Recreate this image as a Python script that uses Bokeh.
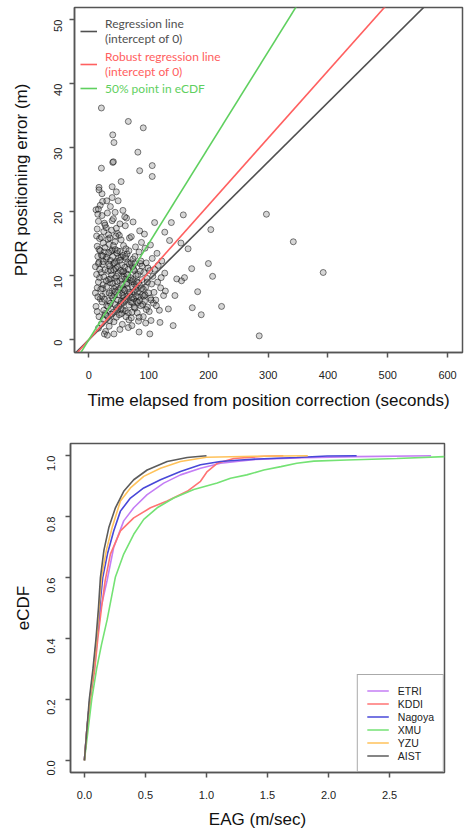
import numpy as np
from bokeh.plotting import figure
from bokeh.models import Range1d, Legend, LegendItem, FixedTicker, PrintfTickFormatter
from bokeh.embed import file_html
from bokeh.resources import INLINE

# ---------------- top chart data ----------------
time_elapsed = [
    12, 14, 11, 15, 13, 16, 12, 17, 18, 14, 19, 16, 13, 18, 15, 17, 11, 19, 14, 16,
    21, 22, 24, 23, 26, 25, 22, 27, 28, 21, 29, 24, 26, 23, 28, 22, 25, 27, 29, 21, 24, 26, 30, 23,
    31, 33, 35, 32, 36, 34, 38, 31, 37, 39, 33, 35, 37, 32, 39, 34, 36, 38, 30, 40, 33, 36, 31, 39, 35,
    41, 43, 45, 42, 46, 44, 48, 41, 47, 49, 43, 45, 47, 42, 44, 49, 46, 48, 40, 44, 50, 42, 46, 48, 41,
    51, 53, 55, 52, 56, 54, 58, 51, 57, 59, 53, 55, 57, 52, 54, 59, 56, 58, 50, 54, 60, 52, 57, 55,
    61, 63, 65, 62, 66, 64, 68, 61, 67, 69, 63, 65, 67, 62, 69, 64, 66, 68, 60, 70, 63,
    71, 73, 75, 72, 76, 74, 78, 71, 77, 79, 73, 75, 77, 72, 79, 74, 76, 80,
    81, 83, 85, 82, 86, 84, 88, 81, 87, 89, 83, 85, 87, 90, 84,
    91, 93, 95, 92, 96, 94, 98, 91, 97, 99, 93, 95, 100,
    101, 103, 105, 102, 106, 104, 108, 107, 109, 103, 110,
    112, 115, 118, 120, 122, 125, 127, 114, 119, 128, 116,
    133, 141, 144, 135, 138, 147, 155, 160, 154, 166, 127, 110, 102, 158,
    172, 182, 173, 188, 204, 200, 207, 222, 297, 342, 392, 285,
    21, 66, 91, 40, 42, 82, 40, 41, 21, 85, 106, 106, 54, 17, 17, 39, 46, 22, 39, 30, 49, 16, 60,
    15, 18, 20, 23, 25, 27, 30, 32, 34, 36,
    38, 40, 42, 44, 46, 48, 50, 52, 54, 56,
    58, 60, 62, 64, 66, 68, 70, 72, 74, 76,
    78, 80, 82, 85, 88, 92, 96, 14, 17, 21,
    24, 27, 29, 33, 35, 37, 41, 43, 45, 47,
    52, 55, 57, 61, 63, 65, 71, 73, 75, 79,
    83, 86, 90, 94, 98, 16, 19, 26, 28, 34,
    38, 44, 48, 53, 58, 62, 67, 72, 77, 84,
    89, 104, 113, 121,
]
pdr_error = [
    5.2, 8.1, 11.4, 13.0, 16.2, 18.5, 20.3, 3.6, 9.7, 14.6, 6.4, 1.8, 10.2, 15.8, 19.6, 12.1, 7.3, 21.0, 4.4, 9.0,
    2.5, 5.9, 8.6, 11.8, 13.7, 16.9, 19.4, 4.1, 7.2, 10.5, 12.6, 15.1, 18.2, 21.6, 1.3, 6.8, 9.8, 14.4, 17.5, 13.2, 3.2, 0.9, 5.3, 8.0,
    3.7, 6.1, 8.9, 10.7, 12.4, 14.9, 17.1, 19.8, 4.8, 7.6, 9.4, 11.5, 13.8, 15.7, 18.6, 2.1, 5.7, 10.1, 12.9, 6.5, 16.4, 20.8, 0.7, 14.0, 3.0,
    4.3, 6.9, 8.3, 10.9, 12.2, 14.1, 16.6, 18.9, 5.0, 7.8, 9.6, 11.1, 13.5, 2.8, 15.3, 10.4, 3.5, 6.2, 8.8, 19.9, 12.8, 0.9, 17.4, 4.6, 11.9,
    3.9, 5.6, 7.3, 9.2, 10.6, 12.9, 14.7, 16.3, 4.7, 6.6, 8.1, 11.7, 13.2, 18.1, 6.0, 9.9, 2.4, 7.9, 5.2, 15.6, 11.3, 1.6, 20.2, 4.1,
    4.5, 6.3, 8.0, 9.5, 11.0, 13.4, 15.9, 17.8, 5.4, 7.1, 10.3, 12.1, 3.1, 14.2, 9.3, 6.8, 1.9, 11.8, 7.7, 5.9, 19.0,
    3.4, 5.8, 7.5, 9.1, 10.8, 12.6, 14.5, 16.1, 4.9, 8.4, 11.4, 6.4, 13.0, 2.2, 10.0, 18.4, 8.7, 6.0,
    4.2, 6.7, 8.5, 10.2, 11.9, 13.7, 15.2, 7.4, 5.3, 9.4, 2.9, 17.0, 12.3, 7.0, 1.2,
    3.6, 6.0, 8.2, 10.5, 12.0, 14.3, 5.1, 7.9, 9.6, 11.2, 16.5, 2.6, 7.3,
    4.4, 6.5, 8.7, 10.8, 12.7, 3.0, 5.7, 9.9, 7.4, 14.8, 11.0,
    6.2, 9.0, 4.6, 8.1, 12.3, 6.9, 10.4, 13.5, 2.7, 7.6, 11.6,
    4.8, 2.2, 6.9, 15.5, 18.3, 9.5, 9.2, 9.7, 15.1, 14.2, 16.8, 18.3, 0.9, 19.5,
    11.1, 7.5, 5.0, 3.9, 17.2, 11.9, 9.9, 5.2, 19.6, 15.3, 10.5, 0.6,
    36.2, 34.1, 33.1, 32.0, 30.8, 29.3, 27.7, 27.8, 26.8, 26.4, 27.2, 25.5, 24.7, 23.8, 23.4, 23.9, 23.1, 22.8, 22.2, 21.7, 21.7, 20.4, 19.2,
    6.7, 11.0, 7.9, 13.1, 4.6, 10.9, 8.3, 5.2, 11.8, 9.5,
    6.9, 13.0, 8.0, 5.5, 9.9, 11.4, 7.0, 12.4, 4.8, 8.6,
    10.7, 6.2, 12.7, 8.9, 4.2, 7.4, 9.7, 6.6, 9.4, 5.1,
    7.8, 9.0, 5.8, 6.1, 8.0, 6.8, 4.7, 17.3, 14.1, 16.0,
    12.2, 17.9, 9.2, 13.6, 15.9, 10.8, 14.7, 12.0, 16.2, 9.1,
    13.8, 9.5, 6.9, 13.0, 8.7, 10.1, 12.0, 8.2, 11.0, 6.8,
    8.9, 10.7, 5.5, 7.0, 9.0, 11.9, 13.9, 6.3, 3.9, 7.3,
    4.0, 7.5, 13.9, 10.8, 5.8, 3.6, 13.9, 4.3, 11.9, 3.5,
    11.5, 6.2, 5.3, 9.7,
]
assert len(time_elapsed) == len(pdr_error)

line_names = ["Regression line\n(intercept of 0)", "Robust regression line\n(intercept of 0)", "50% point in eCDF"]
line_slopes = [0.0927, 0.105, 0.150]
line_colors = ["#505050", "#ff6060", "#5fd05f"]
top_xticks = [0, 100, 200, 300, 400, 500, 600]
top_yticks = [0, 10, 20, 30, 40, 50]

# ---------------- bottom chart data ----------------
labs = ["ETRI", "KDDI", "Nagoya", "XMU", "YZU", "AIST"]
lab_colors = ["#c47ef5", "#ff7373", "#4848d8", "#74e274", "#ffc25a", "#5c5c5c"]
eag_x = {
    "AIST": [0, 0.02, 0.04, 0.07, 0.095, 0.115, 0.131, 0.16, 0.2, 0.254, 0.322, 0.404, 0.514, 0.678, 0.842, 1.0],
    "YZU": [0, 0.02, 0.045, 0.075, 0.1, 0.12, 0.14, 0.18, 0.227, 0.295, 0.377, 0.486, 0.623, 0.787, 1.0, 1.4, 1.83],
    "Nagoya": [0, 0.02, 0.045, 0.075, 0.1, 0.125, 0.15, 0.19, 0.24, 0.295, 0.377, 0.486, 0.623, 0.787, 0.951, 1.115, 1.279, 1.47, 1.74, 1.99, 2.23],
    "ETRI": [0, 0.02, 0.045, 0.08, 0.105, 0.135, 0.186, 0.24, 0.322, 0.404, 0.514, 0.65, 0.787, 0.951, 1.115, 1.4, 1.8, 2.23, 2.84],
    "KDDI": [0, 0.02, 0.05, 0.085, 0.11, 0.14, 0.17, 0.213, 0.295, 0.404, 0.541, 0.678, 0.842, 0.951, 1.006, 1.088, 1.224, 1.47, 1.63],
    "XMU": [0, 0.03, 0.06, 0.1, 0.14, 0.186, 0.254, 0.322, 0.404, 0.486, 0.596, 0.732, 0.896, 1.088, 1.197, 1.33, 1.47, 1.61, 1.74, 1.88, 2.15, 2.56, 2.95],
}
ecdf_y = {
    "AIST": [0, 0.1, 0.2, 0.3, 0.4, 0.5, 0.6, 0.69, 0.764, 0.829, 0.883, 0.921, 0.953, 0.981, 0.994, 1.0],
    "YZU": [0, 0.1, 0.2, 0.3, 0.4, 0.5, 0.6, 0.69, 0.764, 0.851, 0.894, 0.932, 0.959, 0.981, 0.995, 0.998, 1.0],
    "Nagoya": [0, 0.1, 0.2, 0.3, 0.4, 0.5, 0.6, 0.68, 0.753, 0.818, 0.861, 0.894, 0.921, 0.948, 0.970, 0.981, 0.986, 0.99, 0.994, 0.999, 1.0],
    "ETRI": [0, 0.1, 0.2, 0.3, 0.4, 0.5, 0.591, 0.699, 0.786, 0.829, 0.872, 0.91, 0.937, 0.959, 0.975, 0.988, 0.993, 0.997, 1.0],
    "KDDI": [0, 0.1, 0.2, 0.3, 0.4, 0.5, 0.59, 0.677, 0.753, 0.796, 0.829, 0.851, 0.883, 0.916, 0.948, 0.975, 0.991, 0.998, 1.0],
    "XMU": [0, 0.1, 0.2, 0.3, 0.38, 0.461, 0.602, 0.677, 0.742, 0.791, 0.829, 0.861, 0.889, 0.910, 0.926, 0.937, 0.953, 0.964, 0.975, 0.982, 0.986, 0.991, 0.997],
}
bot_xticks = [0, 0.5, 1.0, 1.5, 2.0, 2.5]
bot_yticks = [0, 0.2, 0.4, 0.6, 0.8, 1.0]

FONT = "Liberation Sans"
FRAME = "#555555"
TICK_COLOR = "#222222"


def style(p):
    p.xgrid.visible = False
    p.ygrid.visible = False
    p.outline_line_color = FRAME
    p.outline_line_width = 1.5
    for ax in (p.xaxis[0], p.yaxis[0]):
        ax.axis_line_color = FRAME
        ax.axis_line_width = 1.5
        ax.major_tick_line_color = FRAME
        ax.major_tick_line_width = 1.5
        ax.major_tick_in = 0
        ax.major_tick_out = 5
        ax.minor_tick_line_color = None
        ax.major_label_text_font = FONT
        ax.major_label_text_font_size = "11px"
        ax.major_label_text_color = TICK_COLOR
        ax.axis_label_text_font = FONT
        ax.axis_label_text_font_style = "normal"
        ax.axis_label_text_font_size = "17px"
        ax.axis_label_text_color = "#111111"
    # y tick labels parallel to the axis (reading bottom to top), as in R
    p.yaxis[0].major_label_orientation = 1.5707


# ---------------- top figure ----------------
p1 = figure(width=471, height=420, x_range=Range1d(-24, 625), y_range=Range1d(-2.0, 51.9),
            output_backend="svg", toolbar_location=None,
            min_border_left=74, min_border_right=9, min_border_top=7, min_border_bottom=68)
style(p1)
p1.xaxis.ticker = FixedTicker(ticks=top_xticks)
p1.yaxis.ticker = FixedTicker(ticks=top_yticks)
p1.xaxis.axis_label = "Time elapsed from position correction (seconds)"
p1.yaxis.axis_label = "PDR positioning error (m)"
p1.xaxis.major_label_standoff = 13
p1.xaxis.axis_label_standoff = 9
p1.yaxis.major_label_standoff = 11
p1.yaxis.axis_label_standoff = 16

p1.scatter(time_elapsed, pdr_error, size=6, marker="circle",
           fill_color="#777777", fill_alpha=0.3, line_color="#000000", line_alpha=0.5, line_width=1)

xl = np.array([-30.0, 650.0])
legend_rows = [(6, 306), (6, 273), (6, 256)]
for name, slope, col, loc in zip(line_names, line_slopes, line_colors, legend_rows):
    r = p1.line(xl, slope * xl, line_color=col, line_width=1.6)
    lg = Legend(items=[LegendItem(label=name, renderers=[r])], location=loc,
                background_fill_alpha=0, border_line_alpha=0, padding=0, margin=0, spacing=0,
                glyph_width=17, glyph_height=16, label_height=16, label_standoff=8,
                label_text_font="Lato", label_text_font_size="12px", label_text_color=col,
                label_text_line_height=1.3)
    p1.add_layout(lg)

# ---------------- bottom figure ----------------
p2 = figure(width=471, height=411, x_range=Range1d(-0.114, 2.95), y_range=Range1d(-0.04, 1.04),
            output_backend="svg", toolbar_location=None,
            min_border_left=70, min_border_right=27, min_border_top=23, min_border_bottom=57)
style(p2)
p2.xaxis.ticker = FixedTicker(ticks=bot_xticks)
p2.yaxis.ticker = FixedTicker(ticks=bot_yticks)
p2.xaxis.formatter = PrintfTickFormatter(format="%.1f")
p2.yaxis.formatter = PrintfTickFormatter(format="%.1f")
p2.xaxis.axis_label = "EAG (m/sec)"
p2.yaxis.axis_label = "eCDF"
p2.xaxis.major_label_standoff = 13
p2.xaxis.axis_label_standoff = 8
p2.yaxis.major_label_standoff = 14
p2.yaxis.axis_label_standoff = 7

items = []
for name, col in zip(labs, lab_colors):
    r = p2.line(eag_x[name], ecdf_y[name], line_color=col, line_width=1.6)
    items.append(LegendItem(label=name, renderers=[r]))
leg2 = Legend(items=items, location="bottom_right", margin=0, padding=9, spacing=0,
              glyph_width=22, glyph_height=13, label_height=13, label_standoff=9,
              label_text_font=FONT, label_text_font_size="10.5px", label_text_color="#222222",
              border_line_color=FRAME, border_line_width=1.5, background_fill_color="white")
p2.add_layout(leg2)

open("out.html", "w").write(file_html([p1, p2], INLINE))
